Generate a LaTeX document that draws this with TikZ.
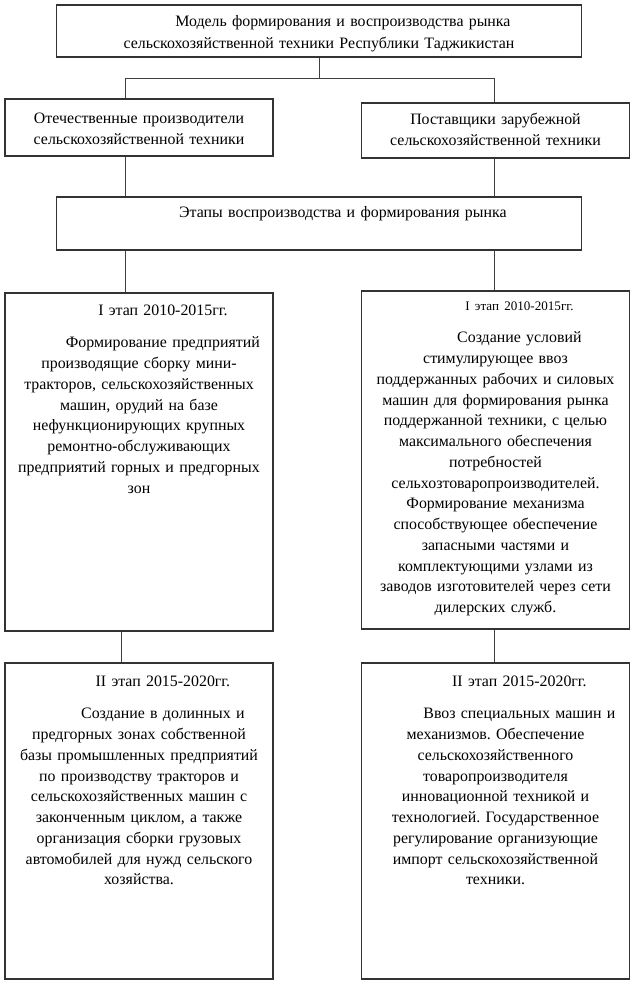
\documentclass[tikz,border=0pt]{standalone}
\usepackage{fontspec}
\setmainfont{Liberation Serif}
\frenchspacing
\newcommand\firstind{\hspace*{34pt}}
\tikzset{
  box/.style={draw=black!80,line width=0.8pt,inner sep=0pt},
  colbox/.style={box,minimum width=6.7cm},
  widebox/.style={box,minimum width=13.1cm},
  txt/.style={inner sep=0pt,anchor=base,align=center,text width=6.5cm,font=\fontsize{11.3}{14.75}\selectfont},
  widetxt/.style={txt,text width=13cm},
  link/.style={draw=black!75,line width=0.7pt}
}

\begin{document}
\begin{tikzpicture}[x=0.025cm,y=-0.025cm]
\useasboundingbox (0,0) rectangle (641,985);
\node[widebox,minimum height=1.3cm] (model) at (319,31) {};
\node[colbox,minimum height=1.425cm] (dom) at (139,127.5) {};
\node[colbox,minimum height=1.375cm] (imp) at (495.5,130.5) {};
\node[widebox,minimum height=1.325cm] (stages) at (319,223.5) {};
\node[colbox,minimum height=8.45cm] (dom1) at (139,462) {};
\node[colbox,minimum height=8.45cm] (imp1) at (495.5,460) {};
\node[colbox,minimum height=7.9cm] (dom2) at (139,821) {};
\node[colbox,minimum height=7.9cm] (imp2) at (495.5,821) {};

\node[widetxt] (t-model) at (319,27) {\firstind Модель формирования и воспроизводства  рынка\\[0.4pt]
сельскохозяйственной техники Республики Таджикистан};
\node[txt] (t-dom) at (139,124) {Отечественные производители\\
сельскохозяйственной техники};
\node[txt] (t-imp) at (495.5,125) {Поставщики зарубежной\\
сельскохозяйственной техники};
\node[widetxt] (t-stages) at (319,218) {\firstind Этапы воспроизводства и формирования рынка};

\node[txt] (t-dom1) at (139,315) {\firstind I этап 2010-2015гг.\\[8.65pt]
\firstind Формирование предприятий\\
производящие сборку мини-\\
тракторов, сельскохозяйственных\\
машин, орудий на базе\\
нефункционирующих крупных\\
ремонтно-обслуживающих\\
предприятий горных и предгорных\\
зон};
\node[txt] (t-imp1) at (495.5,310) {\firstind{\fontsize{9.3}{12}\selectfont I этап 2010-2015гг.}\\[8.65pt]
\firstind Создание условий\\
стимулирующее ввоз\\
поддержанных рабочих и силовых\\
машин для формирования рынка\\
поддержанной техники, с целью\\
максимального обеспечения\\
потребностей\\
сельхозтоваропроизводителей.\\
Формирование механизма\\
способствующее обеспечение\\
запасными частями и\\
комплектующими узлами из\\
заводов изготовителей через сети\\
дилерских служб.};
\node[txt] (t-dom2) at (139,686) {\firstind II этап 2015-2020гг.\\[8.65pt]
\firstind Создание в долинных и\\
предгорных зонах собственной\\
базы промышленных предприятий\\
по производству тракторов и\\
сельскохозяйственных машин с\\
законченным циклом, а также\\
организация сборки грузовых\\
автомобилей для нужд сельского\\
хозяйства.};
\node[txt] (t-imp2) at (495.5,686) {\firstind II этап 2015-2020гг.\\[8.65pt]
\firstind Ввоз специальных машин и\\
механизмов. Обеспечение\\
сельскохозяйственного\\
товаропроизводителя\\
инновационной техникой и\\
технологией. Государственное\\
регулирование организующие\\
импорт сельскохозяйственной\\
техники.};

\coordinate (forkL) at (125,78);
\coordinate (forkR) at (494,78);
\coordinate (stemL) at (121,650);
\draw[link] (model.south) -- (model.south |- forkL);
\draw[link] (dom.north -| forkL) -- (forkL) -- (forkR) -- (imp.north -| forkR);
\draw[link] (dom.south -| forkL) -- (stages.north -| forkL);
\draw[link] (imp.south -| forkR) -- (stages.north -| forkR);
\draw[link] (stages.south -| forkL) -- (dom1.north -| forkL);
\draw[link] (stages.south -| forkR) -- (imp1.north -| forkR);
\draw[link] (dom1.south -| stemL) -- (dom2.north -| stemL);
\draw[link] (imp1.south -| forkR) -- (imp2.north -| forkR);
\end{tikzpicture}
\end{document}
